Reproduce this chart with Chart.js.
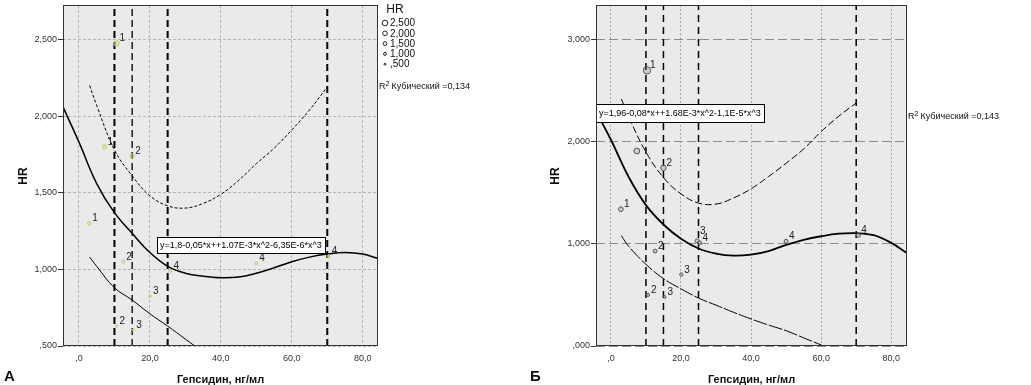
<!DOCTYPE html>
<html>
<head>
<meta charset="utf-8">
<script src="https://cdn.jsdelivr.net/npm/chart.js@4.4.1/dist/chart.umd.min.js"></script>
<style>
html, body { margin: 0; padding: 0; background: #fff; }
#wrap { position: relative; width: 1031px; height: 385px; overflow: hidden; }
canvas { position: absolute; top: 0; }
</style>
</head>
<body>
<div id="wrap">
  <canvas id="chartA" width="515" height="385" style="left:0"></canvas>
  <canvas id="chartB" width="516" height="385" style="left:515px"></canvas>
</div>
<script>
// shared
const xTicks = [0, 20, 40, 60, 80];
const cutoffs = [10, 15, 25, 70];
const xTitle = 'Гепсидин, нг/мл';
const yTitle = 'HR';

// panel А
const aYTicks = [0.5, 1.0, 1.5, 2.0, 2.5];
const aX = [10.6, 7.2, 15.0, 2.9, 12.5, 25.8, 20.0, 10.6, 15.3, 50.0, 70.4];
const aY = [2.475, 1.80, 1.74, 1.30, 1.05, 0.99, 0.825, 0.63, 0.605, 1.04, 1.085];
const aLabels = ['1', '1', '2', '1', '2', '4', '3', '2', '3', '4', '4'];
const aFitX = [-4.5, 0, 5, 10, 15, 20, 25, 30, 35, 40, 45, 50, 55, 60, 65, 70, 75, 80, 84.3];
const aFitY = [2.06, 1.83, 1.56, 1.37, 1.235, 1.11, 1.02, 0.975, 0.955, 0.945, 0.95, 0.975, 1.01, 1.05, 1.08, 1.10, 1.11, 1.10, 1.07];
const aUpX = [3, 5, 10, 15, 20, 25, 30, 35, 40, 45, 50, 55, 60, 65, 70];
const aUpY = [2.20, 2.07, 1.78, 1.61, 1.48, 1.415, 1.40, 1.43, 1.49, 1.58, 1.69, 1.79, 1.91, 2.04, 2.19];
const aLoX = [3, 5, 10, 15, 20, 25, 30, 35];
const aLoY = [1.08, 1.02, 0.88, 0.80, 0.71, 0.63, 0.545, 0.46];
const aLegendHR = [2.5, 2.0, 1.5, 1.0, 0.5];
const aEquation = 'y=1,8-0,05*x++1.07E-3*x^2-6,35E-6*x^3';
const aR2 = 'Кубический =0,134';

// panel Б
const bYTicks = [0, 1, 2, 3];
const bX = [10.3, 7.4, 15.0, 2.85, 12.6, 24.6, 25.3, 20.1, 10.6, 15.3, 50.0, 70.6];
const bY = [2.70, 1.91, 1.745, 1.34, 0.93, 1.03, 1.01, 0.70, 0.50, 0.48, 1.025, 1.085];
const bLabels = ['1', '', '2', '1', '2', '3', '4', '3', '2', '3', '4', '4'];
const bFitX = [-4.3, 0, 5, 10, 15, 20, 25, 30, 35, 40, 45, 50, 55, 60, 65, 70, 75, 80, 84.5];
const bFitY = [2.30, 2.02, 1.66, 1.38, 1.19, 1.05, 0.955, 0.905, 0.885, 0.895, 0.93, 0.99, 1.04, 1.075, 1.10, 1.105, 1.085, 1.01, 0.91];
const bUpX = [3, 5, 10, 15, 20, 25, 30, 35, 40, 45, 50, 55, 60, 65, 70];
const bUpY = [2.42, 2.25, 1.90, 1.65, 1.49, 1.40, 1.39, 1.45, 1.54, 1.66, 1.79, 1.93, 2.10, 2.25, 2.38];
const bLoX = [3, 5, 10, 15, 20, 25, 30, 35, 40, 45, 50, 55, 60, 62];
const bLoY = [1.08, 0.98, 0.80, 0.66, 0.56, 0.47, 0.40, 0.33, 0.265, 0.205, 0.15, 0.08, 0.01, -0.02];
const bLegendHR = [3.0, 2.5, 2.0, 1.5, 1.0, 0.5, 0.0];
const bEquation = 'y=1,96-0,08*x++1.68E-3*x^2-1,1E-5*x^3';
const bR2 = 'Кубический =0,143';

const FONT = '"Liberation Sans", Arial, sans-serif';

function fmt(v, digits) {
    let s = v.toFixed(digits).replace('.', ',');
    return s.startsWith('0,') ? s.slice(1) : s;
}

function xy(xs, ys) {
    return xs.map((x, i) => ({ x: x, y: ys[i] }));
}

// background, point labels, equation box, frame, legend and titles
const decor = {
    id: 'decor',
    beforeDraw(chart, args, o) {
        const a = chart.chartArea, ctx = chart.ctx;
        ctx.save();
        ctx.fillStyle = '#eaeaea';
        ctx.fillRect(a.left, a.top, a.right - a.left, a.bottom - a.top);
        ctx.restore();
    },
    afterDatasetsDraw(chart, args, o) {
        const ctx = chart.ctx, a = chart.chartArea;
        ctx.save();
        ctx.font = '10px ' + FONT;
        ctx.fillStyle = '#222';
        ctx.textAlign = 'left';
        ctx.textBaseline = 'alphabetic';
        chart.getDatasetMeta(0).data.forEach((el, i) => {
            const t = o.labels[i];
            if (!t) return;
            ctx.fillText(t, el.x + 3, el.y - 2 + (o.labelDy[i] || 0));
        });
        // equation
        ctx.font = '9px ' + FONT;
        const w = Math.round(ctx.measureText(o.equation).width) + 6;
        const [bx, by, bh] = o.eqBox;
        ctx.fillStyle = '#fff';
        ctx.fillRect(bx, by, w, bh);
        ctx.strokeStyle = '#000';
        ctx.lineWidth = 1;
        ctx.strokeRect(bx + 0.5, by + 0.5, w, bh);
        ctx.fillStyle = '#000';
        ctx.textBaseline = 'middle';
        ctx.fillText(o.equation, bx + 3, by + bh / 2 + 1);
        // frame
        ctx.strokeStyle = '#333';
        ctx.strokeRect(a.left + 0.5, a.top + 0.5, a.right - a.left - 1, a.bottom - a.top - 1);
        ctx.restore();
    },
    afterDraw(chart, args, o) {
        const ctx = chart.ctx, a = chart.chartArea;
        ctx.save();
        // legend
        ctx.fillStyle = '#111';
        ctx.textBaseline = 'middle';
        ctx.textAlign = 'left';
        if (o.legendTitle) {
            ctx.font = '12px ' + FONT;
            ctx.textAlign = 'center';
            ctx.fillText(o.legendTitle, o.legendX + 10, o.legendTitleY);
            ctx.textAlign = 'left';
        }
        ctx.font = '10px ' + FONT;
        o.legendHR.forEach((v, i) => {
            const y = o.legendY + i * o.legendStep;
            ctx.beginPath();
            ctx.arc(o.legendX, y, o.radius(v), 0, Math.PI * 2);
            ctx.strokeStyle = '#222';
            ctx.lineWidth = 1;
            ctx.stroke();
            ctx.fillText(fmt(v, 3), o.legendX + 5, y + 0.5);
        });
        // R2
        ctx.font = '9px ' + FONT;
        ctx.fillText('R', a.right + 1, o.r2Y);
        const rw = ctx.measureText('R').width;
        ctx.font = '7px ' + FONT;
        ctx.fillText('2', a.right + 1 + rw, o.r2Y - 3);
        ctx.font = '9px ' + FONT;
        ctx.fillText(o.r2, a.right + 1 + rw + 6, o.r2Y);
        // axis titles
        ctx.font = 'bold 11px ' + FONT;
        ctx.textAlign = 'center';
        ctx.fillText(xTitle, (a.left + a.right) / 2 + o.xTitleDx, 380);
        ctx.save();
        ctx.translate(o.yTitleX, 176);
        ctx.rotate(-Math.PI / 2);
        ctx.font = 'bold 12px ' + FONT;
        ctx.fillText(yTitle, 0, 0);
        ctx.restore();
        // panel letter
        ctx.font = 'bold 15px ' + FONT;
        ctx.textAlign = 'left';
        ctx.fillText(o.letter, o.letterX, 377);
        ctx.restore();
    }
};

function makePanel(canvasId, p) {
    const datasets = [{
        data: xy(p.px, p.py),
        pointRadius: p.py.map(p.radius),
        pointBorderColor: p.pointColor,
        pointBackgroundColor: p.pointFill,
        pointBorderWidth: 1
    }, {
        data: xy(p.fitX, p.fitY), showLine: true, pointRadius: 0,
        borderColor: '#000', borderWidth: p.fitWidth, tension: 0.4
    }, {
        data: xy(p.upX, p.upY), showLine: true, pointRadius: 0,
        borderColor: '#000', borderWidth: 1, borderDash: p.upDash, tension: 0.4
    }, {
        data: xy(p.loX, p.loY), showLine: true, pointRadius: 0,
        borderColor: '#000', borderWidth: 1, borderDash: p.loDash, tension: 0.4
    }];
    cutoffs.forEach((c, i) => {
        datasets.push({
            data: [{ x: c, y: p.yMin }, { x: c, y: p.yMax }], showLine: true, pointRadius: 0,
            borderColor: '#000', borderWidth: p.cutWidth[i], borderDash: p.cutDash
        });
    });

    return new Chart(document.getElementById(canvasId), {
        type: 'scatter',
        data: { datasets: datasets },
        options: {
            responsive: false,
            animation: false,
            layout: { padding: { left: 0, top: 3, right: p.padRight, bottom: 0 } },
            scales: {
                x: {
                    type: 'linear', min: p.xMin, max: p.xMax,
                    afterBuildTicks: s => { s.ticks = xTicks.map(v => ({ value: v })); },
                    afterFit: s => { s.height = 39; s.paddingLeft = 0; s.paddingRight = 0; },
                    grid: { color: p.xGridColor, drawTicks: false, lineWidth: 1 },
                    border: { display: false, dash: p.xGridDash },
                    ticks: {
                        callback: v => fmt(v, 1), autoSkip: false, maxRotation: 0,
                        font: { family: FONT, size: 9 }, color: '#333', padding: 7
                    }
                },
                y: {
                    type: 'linear', min: p.yMin, max: p.yMax,
                    afterBuildTicks: s => { s.ticks = p.yTicks.map(v => ({ value: v })); },
                    afterFit: s => { s.width = p.yAxisWidth; s.paddingTop = 0; s.paddingBottom = 0; },
                    grid: { color: p.yGridColor, lineWidth: 1, tickLength: 5, tickColor: '#333', tickBorderDash: [] },
                    border: { display: false, dash: p.yGridDash },
                    ticks: {
                        callback: v => fmt(v, 3), autoSkip: false,
                        font: { family: FONT, size: 9 }, color: '#333', padding: 1
                    }
                }
            },
            plugins: {
                legend: { display: false },
                tooltip: { enabled: false },
                decor: p.decor
            }
        },
        plugins: [decor]
    });
}

const radiusA = v => 1 + 0.9 * (v - 0.5);
const radiusB = v => 1 + 1.0 * v;

makePanel('chartA', {
    px: aX, py: aY, fitX: aFitX, fitY: aFitY, upX: aUpX, upY: aUpY, loX: aLoX, loY: aLoY,
    radius: radiusA, pointColor: '#c2cc74', pointFill: 'rgba(200,210,120,0.35)',
    fitWidth: 1.5, upDash: [3, 2], loDash: [],
    cutWidth: [2, 1.3, 2, 2], cutDash: [7, 4],
    xMin: -4.5, xMax: 84.3, yMin: 0.5, yMax: 2.725, yTicks: aYTicks,
    yAxisWidth: 63, padRight: 137,
    xGridColor: '#b4b4b4', xGridDash: [3, 2], yGridColor: '#b4b4b4', yGridDash: [3, 2],
    decor: {
        labels: aLabels, labelDy: [],
        equation: aEquation, eqBox: [157, 237, 16],
        legendTitle: 'HR', legendTitleY: 10, legendX: 385, legendY: 23, legendStep: 10.3,
        legendHR: aLegendHR, radius: radiusA,
        r2: aR2, r2Y: 87, xTitleDx: 0, yTitleX: 24, letter: 'А', letterX: 4
    }
});

makePanel('chartB', {
    px: bX, py: bY, fitX: bFitX, fitY: bFitY, upX: bUpX, upY: bUpY, loX: bLoX, loY: bLoY,
    radius: radiusB, pointColor: '#555', pointFill: 'rgba(120,120,120,0.25)',
    fitWidth: 1.8, upDash: [7, 3], loDash: [14, 2],
    cutWidth: [1.5, 1.5, 1.5, 1.5], cutDash: [7, 5],
    xMin: -4.25, xMax: 84.5, yMin: 0, yMax: 3.34, yTicks: bYTicks,
    yAxisWidth: 81, padRight: 124,
    xGridColor: '#a8a8a8', xGridDash: [2, 2], yGridColor: '#8c8c8c', yGridDash: [9, 4],
    decor: {
        labels: bLabels, labelDy: [0, 0, 0, 0, 0, -5],
        equation: bEquation, eqBox: [81, 104, 18],
        legendTitle: '', legendTitleY: 0, legendX: 921, legendY: 9, legendStep: 10.5,
        legendHR: bLegendHR, radius: radiusB,
        r2: bR2, r2Y: 117, xTitleDx: 0, yTitleX: 41, letter: 'Б', letterX: 15
    }
});
</script>
</body>
</html>
